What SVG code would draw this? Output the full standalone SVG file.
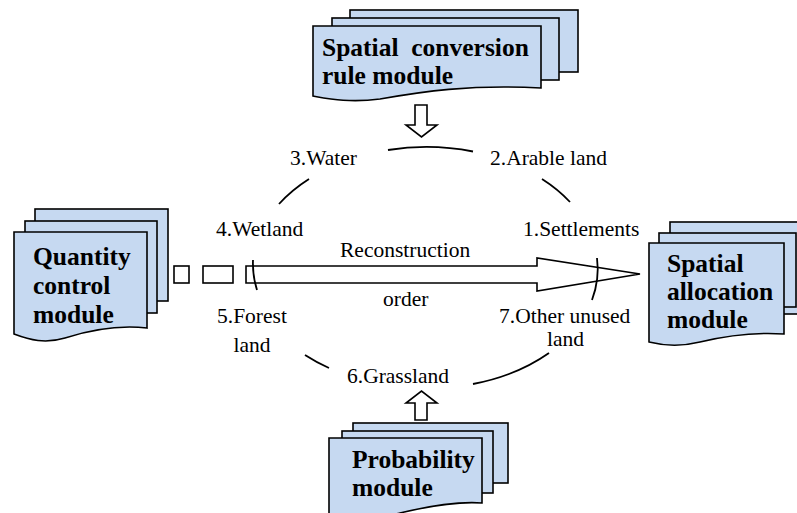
<svg xmlns="http://www.w3.org/2000/svg" width="797" height="513" viewBox="0 0 797 513">
<style>
.sheet{fill:#c6d9f1;stroke:#000;stroke-width:1.6;stroke-linejoin:miter}
.mt{font-family:"Liberation Serif","Times New Roman",serif;font-weight:bold;font-size:25.5px;fill:#000}
.lb{font-family:"Liberation Serif","Times New Roman",serif;font-size:21.5px;fill:#000}
.arc{fill:none;stroke:#000;stroke-width:1.8}
.arr{fill:#fff;stroke:#000;stroke-width:1.6}
</style>
<rect width="797" height="513" fill="#fff"/>
<g id="spatial-conversion-rule-module">
<rect class="sheet" x="350" y="10" width="228" height="62"/>
<rect class="sheet" x="332" y="18" width="227" height="62"/>
<path class="sheet" d="M313,26 H541 V88 C470,84 420,92 380,99 C350,103 330,99 313,96 Z"/>
<text class="mt" x="322" y="56" xml:space="preserve">Spatial  conversion</text>
<text class="mt" x="322" y="84">rule module</text>
</g>
<g id="quantity-control-module">
<rect class="sheet" x="35" y="209" width="133" height="92"/>
<rect class="sheet" x="25" y="221" width="132" height="92"/>
<path class="sheet" d="M14,232 H147 V328 C120,325 90,330 65,338 C45,344 30,340 14,334 Z"/>
<text class="mt" x="33" y="265">Quantity</text>
<text class="mt" x="33" y="294">control</text>
<text class="mt" x="33" y="323">module</text>
</g>
<g id="spatial-allocation-module">
<rect class="sheet" x="670" y="222" width="140" height="92"/>
<rect class="sheet" x="659" y="233" width="137" height="74"/>
<path class="sheet" d="M649,243 H784 V334 C755,332 725,336 700,342 C680,347 665,346 649,342 Z"/>
<text class="mt" x="667" y="272">Spatial</text>
<text class="mt" x="667" y="300">allocation</text>
<text class="mt" x="667" y="328">module</text>
</g>
<g id="probability-module">
<rect class="sheet" x="353" y="423" width="155" height="60"/>
<rect class="sheet" x="342" y="431" width="151" height="62"/>
<path class="sheet" d="M329,438 H482 V503 C455,501 425,507 400,513 C370,520 350,518 329,514 Z"/>
<text class="mt" x="352" y="468">Probability</text>
<text class="mt" x="352" y="496">module</text>
</g>
<g id="connectors">
<polygon class="arr" points="415,105 427,105 427,125 437,125 421.5,137 406,125 415,125"/>
<polygon class="arr" points="415,420 427,420 427,403 437,403 421.5,391 406,403 415,403"/>
<rect class="arr" x="174" y="266" width="15" height="17"/>
<rect class="arr" x="203" y="266" width="30" height="17"/>
<polygon class="arr" points="246,266 537,266 537,258 640,274 537,291 537,283 246,283"/>
<path class="arc" d="M388,150 A171 121 0 0 1 473,151.5"/>
<path class="arc" d="M279,204 A171 121 0 0 1 309,179"/>
<path class="arc" d="M542,179 A171 121 0 0 1 570,202"/>
<path class="arc" d="M257,290 A171 121 0 0 1 253,260"/>
<path class="arc" d="M597,258 A171 121 0 0 1 592,300"/>
<path class="arc" d="M549,353 A171 121 0 0 1 473,384"/>
<path class="arc" d="M329,368 A171 121 0 0 1 305,355"/>
</g>
<g id="labels">
<text class="lb" x="290" y="165">3.Water</text>
<text class="lb" x="490" y="165">2.Arable land</text>
<text class="lb" x="216" y="236">4.Wetland</text>
<text class="lb" x="523" y="236">1.Settlements</text>
<text class="lb" x="340" y="257">Reconstruction</text>
<text class="lb" x="383" y="306">order</text>
<text class="lb" x="217" y="323">5.Forest</text>
<text class="lb" x="252" y="352" text-anchor="middle">land</text>
<text class="lb" x="499" y="323">7.Other unused</text>
<text class="lb" x="565.5" y="346" text-anchor="middle">land</text>
<text class="lb" x="347" y="383">6.Grassland</text>
</g>
</svg>
